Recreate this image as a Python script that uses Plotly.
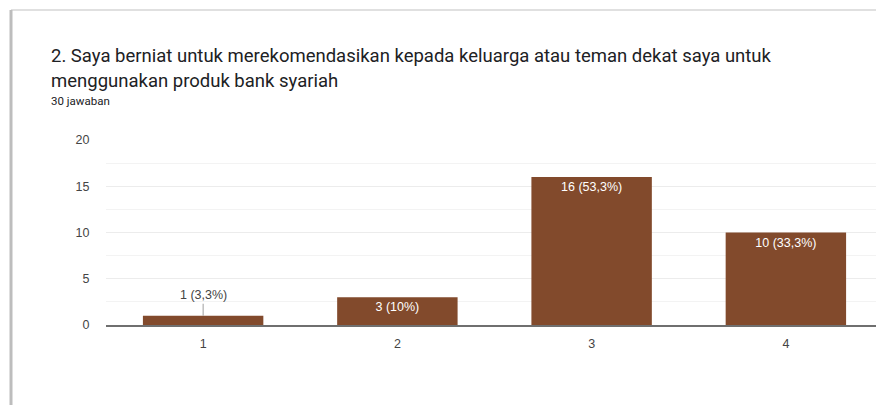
import plotly.graph_objects as go

categories = ["1", "2", "3", "4"]
counts = [1, 3, 16, 10]
pct_labels = ["3,3%", "10%", "53,3%", "33,3%"]
title_line1 = "2. Saya berniat untuk merekomendasikan kepada keluarga atau teman dekat saya untuk"
title_line2 = "menggunakan produk bank syariah"
subtitle = "30 jawaban"
y_ticks = [0, 5, 10, 15, 20]

OFF = 8  # default page margin of the browser
W, H = 884 - OFF, 405 - OFF
ML, MR, MT, MB = 106 - OFF, 1, 140 - OFF, 80
PW = W - ML - MR
PH = H - MT - MB

def px_x(p):
    return (p - OFF - ML) / PW

def px_y(p):
    return (H - MB - (p - OFF)) / PH

bar_color = "#824a2c"
labels = [f"{c} ({p})" for c, p in zip(counts, pct_labels)]
inside_text = ["" if c < 2 else l for c, l in zip(counts, labels)]
FONT = "Liberation Sans, Arial"

fig = go.Figure()
fig.add_trace(go.Bar(
    x=categories, y=counts,
    marker=dict(color=bar_color, line=dict(width=0)),
    text=inside_text, textposition="inside", insidetextanchor="end",
    textfont=dict(color="white", size=12.5, family=FONT),
    textangle=0, hoverinfo="skip",
))

for i, (c, l) in enumerate(zip(counts, labels)):
    if c < 2:
        fig.add_annotation(x=i, y=c, xref="x", yref="y", text=l,
                           showarrow=True, arrowhead=0, arrowwidth=1, arrowcolor="#9e9e9e",
                           ax=0, ay=-12, yanchor="bottom",
                           font=dict(size=12.5, color="#444", family=FONT))

# grid and axis lines stop short of the right edge
fig.add_shape(type="rect", xref="paper", yref="paper",
              x0=px_x(877), x1=px_x(886), y0=px_y(345), y1=px_y(120),
              fillcolor="white", line=dict(width=0), layer="above")

# card border and shadow
fig.add_shape(type="line", xref="paper", yref="paper",
              x0=px_x(11), x1=px_x(884), y0=px_y(10), y1=px_y(10),
              line=dict(color="#d6d6d6", width=1.5), layer="below")
fig.add_shape(type="line", xref="paper", yref="paper",
              x0=px_x(11), x1=px_x(11), y0=px_y(10), y1=px_y(405),
              line=dict(color="#bdbdbd", width=3), layer="below")

fig.add_annotation(xref="paper", yref="paper", x=px_x(49), y=px_y(56), xanchor="left", yanchor="middle",
                   text=title_line1, showarrow=False,
                   font=dict(size=18.5, color="#202124", family="Roboto"))
fig.add_annotation(xref="paper", yref="paper", x=px_x(49), y=px_y(81), xanchor="left", yanchor="middle",
                   text=title_line2, showarrow=False,
                   font=dict(size=18.5, color="#202124", family="Roboto"))
fig.add_annotation(xref="paper", yref="paper", x=px_x(49), y=px_y(101), xanchor="left", yanchor="middle",
                   text=subtitle, showarrow=False,
                   font=dict(size=11.5, color="#202124", family="Roboto"))

fig.update_layout(
    width=W, height=H,
    margin=dict(l=ML, r=MR, t=MT, b=MB),
    paper_bgcolor="white", plot_bgcolor="white",
    bargap=0.38, showlegend=False,
    xaxis=dict(type="category", showgrid=False, showline=True, linecolor="#6f6f6f", linewidth=1.5,
               tickfont=dict(size=12.5, color="#444", family=FONT),
               ticks="outside", ticklen=6, tickcolor="rgba(0,0,0,0)", fixedrange=True),
    yaxis=dict(range=[0, 20], tickvals=y_ticks, showgrid=True, gridcolor="#ececec", gridwidth=1,
               minor=dict(dtick=2.5, showgrid=True, gridcolor="#f3f3f3", gridwidth=1),
               zeroline=False, showline=False,
               tickfont=dict(size=12.5, color="#444", family=FONT),
               ticks="outside", ticklen=13, tickcolor="rgba(0,0,0,0)", fixedrange=True),
)

fig.write_html("out.html")
